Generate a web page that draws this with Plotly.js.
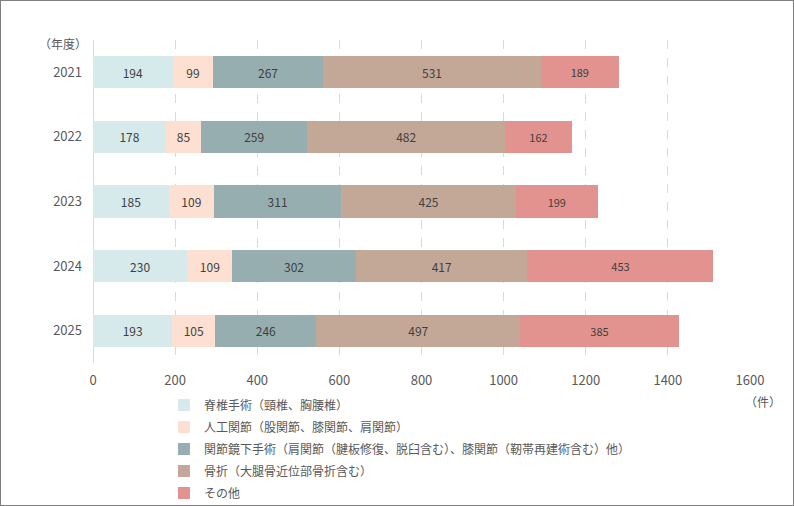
<!DOCTYPE html>
<html>
<head>
<meta charset="utf-8">
<script src="https://cdn.plot.ly/plotly-3.0.1.min.js"></script>
<style>
  html, body { margin: 0; padding: 0; background: #fff; }
  #chart { width: 792px; height: 504px; border: 1px solid #7f7f7f; }
</style>
</head>
<body>
<div id="chart"></div>
<script>
"use strict";

const years = ["2021", "2022", "2023", "2024", "2025"];

const seriesNames = [
    "脊椎手術（頸椎、胸腰椎）",
    "人工関節（股関節、膝関節、肩関節）",
    "関節鏡下手術（肩関節（腱板修復、脱臼含む）、膝関節（靭帯再建術含む）他）",
    "骨折（大腿骨近位部骨折含む）",
    "その他"
];

const spine = [194, 178, 185, 230, 193];
const joint = [99, 85, 109, 109, 105];
const arthro = [267, 259, 311, 302, 246];
const fracture = [531, 482, 425, 417, 497];
const other = [189, 162, 199, 453, 385];

const seriesValues = [spine, joint, arthro, fracture, other];
const seriesColors = ["#d6eaeb", "#fde0d1", "#97aeb0", "#c4a897", "#e3938f"];

const xTicks = [0, 200, 400, 600, 800, 1000, 1200, 1400, 1600];

const fontFamily = '"Noto Sans CJK JP", "Noto Sans", sans-serif';

const traces = seriesValues.map(function (vals, i) {
    return {
        type: "bar",
        orientation: "h",
        name: seriesNames[i],
        legendgroup: "g" + i, // one group each so tracegroupgap spaces the rows
        y: years,
        x: vals,
        width: 0.5,
        marker: { color: seriesColors[i], line: { width: 0 } },
        text: vals.map(String),
        textposition: "inside",
        insidetextanchor: "middle",
        textangle: 0,
        insidetextfont: { family: fontFamily, size: i === 4 ? 11 : 12, color: "#404040" },
        hoverinfo: "x+name"
    };
});

const layout = {
    width: 792,
    height: 504,
    barmode: "stack",
    showlegend: true,
    paper_bgcolor: "#ffffff",
    plot_bgcolor: "#ffffff",
    font: { family: fontFamily, size: 12, color: "#595959" },
    margin: { l: 92, r: 43, t: 39, b: 142, autoexpand: false },
    xaxis: {
        range: [0, 1600],
        tickvals: xTicks,
        ticktext: xTicks.map(String),
        showgrid: true,
        gridcolor: "#d9d9d9",
        griddash: "dash",
        gridwidth: 1,
        zeroline: true,
        zerolinecolor: "#d9d9d9",
        zerolinewidth: 1,
        showline: false,
        ticks: "",
        ticklabelstandoff: 8,
        tickfont: { size: 13, color: "#595959" },
        fixedrange: true
    },
    yaxis: {
        type: "category",
        autorange: "reversed",
        showgrid: false,
        zeroline: false,
        showline: false,
        ticks: "",
        ticklabelstandoff: 10,
        tickfont: { size: 13, color: "#595959" },
        fixedrange: true
    },
    legend: {
        orientation: "v",
        x: 0.108,
        xanchor: "left",
        y: -0.085,
        yanchor: "top",
        bgcolor: "rgba(0,0,0,0)",
        borderwidth: 0,
        traceorder: "grouped",
        font: { size: 12, color: "#595959" },
        tracegroupgap: 3
    },
    annotations: [
        {
            text: "（年度）",
            xref: "paper", yref: "paper",
            x: -0.046, y: 0.988,
            xanchor: "center", yanchor: "middle",
            showarrow: false,
            font: { size: 12, color: "#595959" }
        },
        {
            text: "（件）",
            xref: "paper", yref: "paper",
            x: 1.02, y: -0.12,
            xanchor: "center", yanchor: "middle",
            showarrow: false,
            font: { size: 12, color: "#595959" }
        }
    ]
};

const config = { displayModeBar: false, responsive: false };

Plotly.newPlot(document.getElementById("chart"), traces, layout, config);
</script>
</body>
</html>
